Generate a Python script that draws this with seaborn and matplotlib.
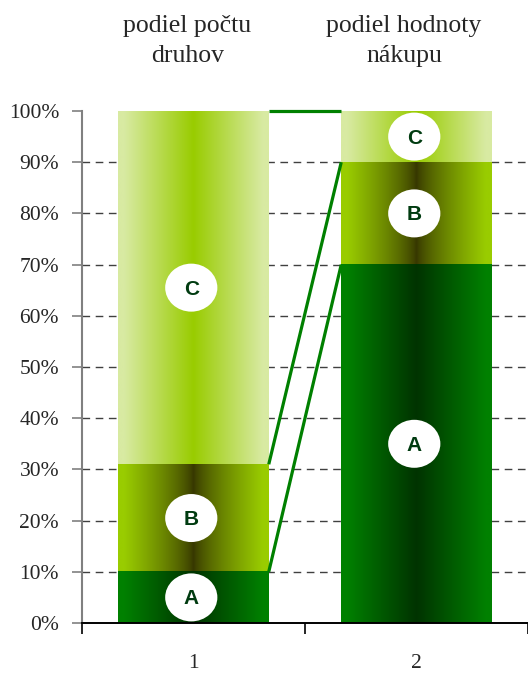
import numpy as np
import pandas as pd
import matplotlib
matplotlib.use("Agg")
import matplotlib.pyplot as plt
from matplotlib.patches import Ellipse
import seaborn as sns

# --- data ---------------------------------------------------------------
stlpce = ["1", "2"]
nadpisy = ["podiel počtu\ndruhov", "podiel hodnoty\nnákupu"]
segmenty = ["A", "B", "C"]
podiel_A = [10, 70]
podiel_B = [21, 20]
podiel_C = [69, 10]
y_ticks = list(range(0, 101, 10))

# gradient colours per segment: (edge, centre)
farby = {
    "C": ("#d8eaa2", "#99cc00"),
    "B": ("#99cc00", "#363600"),
    "A": ("#008000", "#003300"),
}
profil = {"C": 1.0, "B": 0.75, "A": 1.0}

sns.set_style("white")
plt.rcParams["font.family"] = ["Liberation Serif", "DejaVu Serif"]

# cumulative tops of the stacked segments
vrch_A = np.array(podiel_A, dtype=float)
vrch_B = vrch_A + np.array(podiel_B)
vrch_C = vrch_B + np.array(podiel_C)
vrchy = {"A": vrch_A, "B": vrch_B, "C": vrch_C}
spodky = {"A": np.zeros(2), "B": vrch_A, "C": vrch_B}

df = pd.DataFrame({
    "pozicia": stlpce * 3,
    "segment": ["C"] * 2 + ["B"] * 2 + ["A"] * 2,
    "kumul": list(vrch_C) + list(vrch_B) + list(vrch_A),
})

W, H = 528, 675
fig = plt.figure(figsize=(W / 100, H / 100), dpi=100)
ax = fig.add_axes([82 / W, 52 / H, 446 / W, 512 / H])

XMAX = 1.47
bar_w = 0.675
sns.barplot(data=df, x="pozicia", y="kumul", hue="segment",
            hue_order=["C", "B", "A"], dodge=False, width=bar_w,
            palette={"A": "#008000", "B": "#99cc00", "C": "#d8eaa2"},
            saturation=1, linewidth=0, edgecolor="none", legend=False,
            zorder=2, ax=ax)

ax.set_xlim(-0.5, XMAX)
ax.set_ylim(0, 100)

# horizontal reflected gradients laid over each bar
def gradient(edge, centre, gamma, n=256):
    e = np.array(matplotlib.colors.to_rgb(edge))
    c = np.array(matplotlib.colors.to_rgb(centre))
    t = np.abs(np.linspace(-1, 1, n))
    f = np.clip(t / 0.92, 0, 1) ** gamma
    return (c[None, :] + (e - c)[None, :] * f[:, None])[None, :, :]

z = {"C": 2.1, "B": 2.2, "A": 2.3}
hrany = {}
for p in ax.patches:
    x0, y0 = p.get_x(), p.get_y()
    w, h = p.get_width(), p.get_height()
    ci = int(round(x0 + w / 2))
    seg = min(segmenty, key=lambda s: abs(vrchy[s][ci] - (y0 + h)))
    hrany[ci] = (x0, x0 + w)
    img = gradient(*farby[seg], profil[seg])
    ax.imshow(img, extent=(x0, x0 + w, y0, y0 + h), aspect="auto",
              interpolation="bilinear", zorder=z[seg])

# connector lines between the bars
for s in ["A", "B", "C"]:
    ax.plot([hrany[0][1], hrany[1][0]], [vrchy[s][0], vrchy[s][1]],
            color="#008000", lw=2.3, solid_capstyle="butt",
            clip_on=False, zorder=5)

# white oval labels
px_x = 446 / (XMAX + 0.5)
px_y = 512 / 100
for ci in range(2):
    for s in segmenty:
        yc = (spodky[s][ci] + vrchy[s][ci]) / 2
        ax.add_patch(Ellipse((ci - 0.01, yc), 53 / px_x, 48 / px_y,
                             facecolor="white", edgecolor="none", zorder=6))
        ax.text(ci - 0.01, yc - 0.3, s, ha="center", va="center",
                fontsize=15, fontweight="bold", color="#003b10",
                family=["Liberation Sans", "DejaVu Sans"], zorder=7)

# axes styling
ax.set_xlabel("")
ax.set_ylabel("")
ax.set_yticks(y_ticks)
ax.set_yticklabels([f"{v}%" for v in y_ticks], fontsize=15.5)
ax.tick_params(axis="y", direction="out", length=7, width=1.2,
               color="#808080", pad=9.5, left=True)
ax.set_xticks([-0.5, 0.5, 1.5])
ax.set_xticklabels(["", "", ""])
ax.set_xticks([0, 1], minor=True)
ax.set_xticklabels(stlpce, minor=True, fontsize=15.5)
ax.tick_params(axis="x", which="major", direction="out", length=8,
               width=1.2, color="#000000", bottom=True)
ax.tick_params(axis="x", which="minor", length=0, pad=22)

ax.set_axisbelow(True)
ax.yaxis.grid(True, linestyle=(0, (5.5, 4)), color="#404040", lw=1.0)
gl = ax.get_ygridlines()
gl[0].set_visible(False)
gl[-1].set_visible(False)

for s in ["top", "right"]:
    ax.spines[s].set_visible(False)
ax.spines["left"].set_color("#808080")
ax.spines["left"].set_linewidth(1.5)
ax.spines["bottom"].set_color("#000000")
ax.spines["bottom"].set_linewidth(1.4)
ax.spines["bottom"].set_zorder(8)

# column headings
stredy = [187.5, 404.0]
for xc, t in zip(stredy, nadpisy):
    l1, l2 = t.split("\n")
    fig.text(xc / W, 1 - 32 / H, l1, ha="center", va="baseline", fontsize=18.5)
    fig.text(xc / W, 1 - 62 / H, l2, ha="center", va="baseline", fontsize=18.5)

fig.savefig("out.png", dpi=100)
